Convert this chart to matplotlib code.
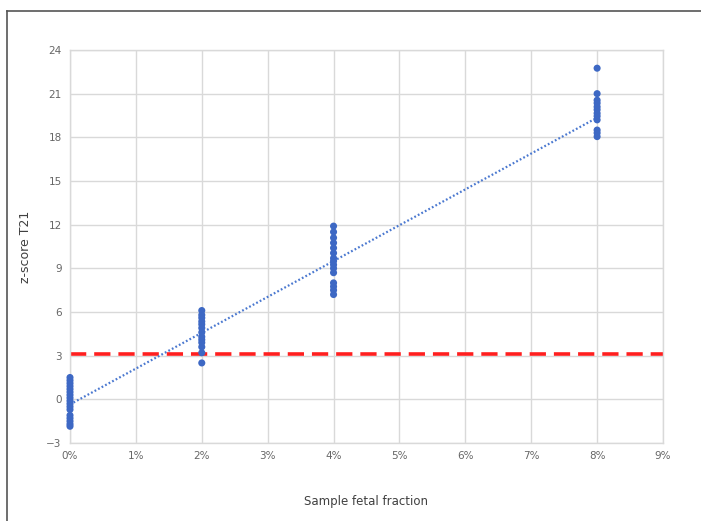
import matplotlib
matplotlib.use("Agg")
import matplotlib.pyplot as plt
from matplotlib.lines import Line2D
import numpy as np

# Data (fetal fraction as fraction, z-score values)
ff_0 = [1.5, 1.3, 1.1, 0.9, 0.7, 0.5, 0.3, 0.1, -0.1, -0.3, -0.5, -0.7, -1.1, -1.3, -1.5, -1.7, -1.85]
ff_2 = [6.1, 5.8, 5.6, 5.35, 5.15, 4.9, 4.6, 4.3, 4.1, 3.9, 3.6, 3.2, 2.5]
ff_4 = [11.9, 11.5, 11.1, 10.75, 10.4, 10.05, 9.7, 9.5, 9.25, 9.0, 8.7, 8.0, 7.75, 7.5, 7.2]
ff_8 = [22.75, 21.0, 20.55, 20.35, 20.1, 19.9, 19.65, 19.45, 19.2, 18.5, 18.3, 18.05]
fractions = [0.00, 0.02, 0.04, 0.08]
threshold = 3.1
trend_intercept = -0.35
trend_end = 19.35
x_ticks = [0.00, 0.01, 0.02, 0.03, 0.04, 0.05, 0.06, 0.07, 0.08, 0.09]
x_tick_labels = ["0%", "1%", "2%", "3%", "4%", "5%", "6%", "7%", "8%", "9%"]
y_ticks = [-3, 0, 3, 6, 9, 12, 15, 18, 21, 24]

groups = [ff_0, ff_2, ff_4, ff_8]
xs = np.concatenate([[f] * len(g) for f, g in zip(fractions, groups)])
ys = np.concatenate(groups)

fig = plt.figure(figsize=(7.01, 5.21), dpi=100)
ax = fig.add_axes([70 / 701, 1 - 443 / 521, (663 - 70) / 701, (443 - 50) / 521])

grid_c = "#d9d9d9"
ax.set_xlim(0, 0.09)
ax.set_ylim(-3, 24)
ax.set_xticks(x_ticks)
ax.set_xticklabels(x_tick_labels)
ax.set_yticks(y_ticks)
ax.grid(True, color=grid_c, lw=1)
ax.set_axisbelow(True)
for s in ax.spines.values():
    s.set_color(grid_c)
    s.set_linewidth(1)
ax.tick_params(length=0, labelsize=7.5, labelcolor="#666666", pad=6)

# threshold line
ax.axhline(threshold, color="#ff1f1f", lw=2.6, ls=(0, (4.5, 2.2)), zorder=2)

# trendline
ax.plot([fractions[0], fractions[-1]], [trend_intercept, trend_end],
        color="#4a78d0", lw=1.6, ls=(0, (0.8, 1.0)), zorder=3)

# points
ax.scatter(xs, ys, s=26, color="#3d68c4", edgecolors="none", zorder=4, clip_on=False)

ax.set_ylabel("z-score T21", fontsize=9, color="#404040", labelpad=10)
fig.text(366 / 701, 1 - 502 / 521, "Sample fetal fraction", fontsize=8.5,
         color="#404040", ha="center", va="center")

# outer frame (left and top)
fig.add_artist(Line2D([7 / 701, 7 / 701], [0, 1 - 11 / 521], color="#555555", lw=1.2,
                      transform=fig.transFigure))
fig.add_artist(Line2D([7 / 701, 1], [1 - 11 / 521, 1 - 11 / 521], color="#555555", lw=1.2,
                      transform=fig.transFigure))

fig.savefig("out.png", dpi=100)
